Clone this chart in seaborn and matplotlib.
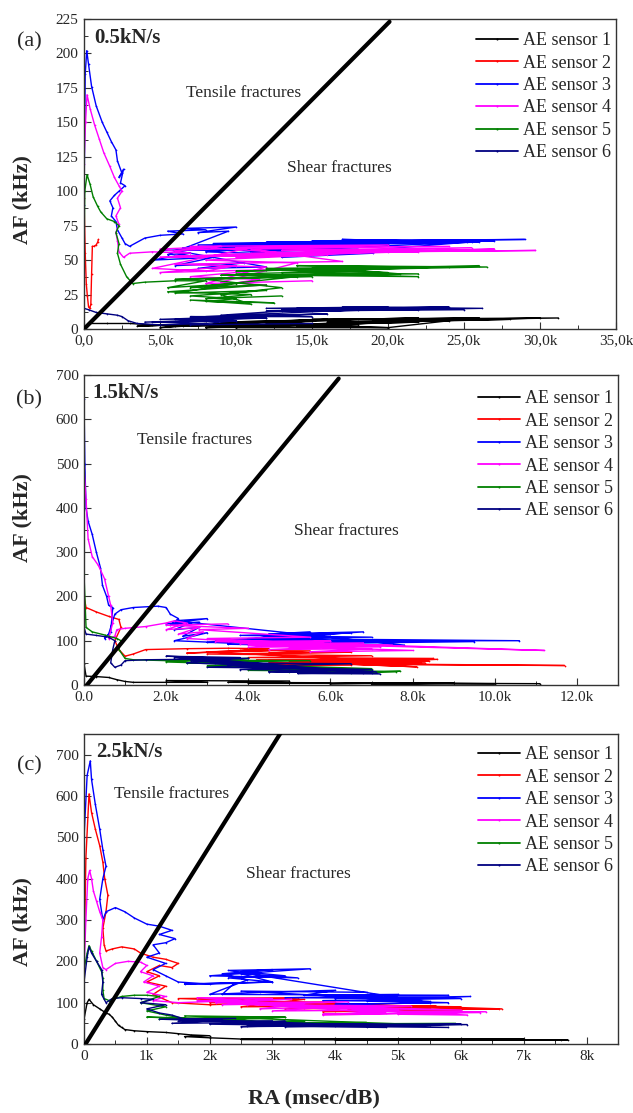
import matplotlib
matplotlib.use('Agg')
import matplotlib.pyplot as plt
import pandas as pd
import seaborn as sns
from matplotlib.lines import Line2D
from matplotlib.ticker import MultipleLocator, FuncFormatter

sns.set_theme(style='white')
plt.rcParams['font.family'] = ['Liberation Serif', 'DejaVu Serif']
plt.rcParams['axes.unicode_minus'] = False

# ---------------- data (RA in thousands of msec/dB, AF in kHz) ----------------
sensor_labels = ['AE sensor 1', 'AE sensor 2', 'AE sensor 3', 'AE sensor 4', 'AE sensor 5', 'AE sensor 6']
sensor_colors = ['#000000', '#FF0000', '#0000FF', '#FF00FF', '#008000', '#000080']
panel_tags = ['(a)', '(b)', '(c)']
panel_rates = ['0.5kN/s', '1.5kN/s', '2.5kN/s']

# panel (a) 0.5 kN/s
a1_ra = [0, 0.3, 1.5, 3.0, 4.5, 6.0, 3.5, 8.0, 5.0, 11.0, 6.5, 14.0, 8.0, 16.0, 10.0, 20.0, 12.0, 18.0, 9.0, 22.0,
         13.0, 26.0, 15.0, 31.2, 19.0, 25.0, 14.0, 20.0, 24.0, 12.0, 28.0, 16.0, 30.0, 10.0, 22.0, 8.0, 18.0, 6.0, 14.0]
a1_af = [0, 4, 4, 4, 3, 3, 2, 4, 1, 5, 2, 6, 3, 7, 1, 1, 4, 7, 5, 8,
         6, 8, 7, 8, 6, 7, 2, 1, 6, 3, 7, 5, 8, 2, 5, 1, 3, 2, 4]
a2_ra = [0, 0, 0.08, 0.15, 0.22, 0.3, 0.38, 0.45, 0.5, 0.55, 0.65, 0.8, 0.9, 0.95]
a2_af = [2, 95, 55, 33, 24, 16, 15, 18, 40, 60, 60, 61, 63, 65]
a3_ra = [0, 0, 0.08, 0.18, 0.3, 0.5, 0.8, 1.2, 1.5, 1.8, 2.1, 2.2, 2.5, 2.3, 2.6, 2.4, 2.7, 2.3, 2.0, 1.7,
         1.9, 1.8, 2.1, 2.2, 2.5, 2.7, 3.0, 4.0, 5.0, 6.5, 5.5, 8.0, 6.5, 10.0, 7.5, 9.5, 5.5, 7.0, 4.5, 8.5,
         6.0, 10.5, 7.5, 12.0, 6.0, 9.0, 14.0, 8.0, 13.0, 7.5, 16.0, 10.0, 20.0, 12.0, 24.0, 14.0, 25.5, 17.0, 22.0, 15.0,
         29.0, 18.0, 27.0, 12.0, 25.0, 8.5, 22.0, 10.0, 26.0, 9.0, 20.0, 6.5, 15.0, 5.0, 18.0, 11.0, 25.2, 13.0, 19.0]
a3_af = [0, 90, 185, 202, 192, 176, 162, 150, 143, 136, 130, 122, 113, 110, 116, 106, 104, 100, 97, 93,
         88, 82, 78, 72, 66, 62, 60, 66, 68, 69, 71, 72, 73, 74, 70, 71, 54, 55, 50, 52,
         46, 48, 44, 45, 57, 58, 54, 56, 60, 61, 62, 60, 63, 62, 64, 63, 63, 65, 64, 64,
         65, 64, 64, 63, 64, 62, 63, 61, 63, 60, 62, 59, 60, 57, 58, 56, 63, 52, 55]
a4_ra = [0, 0, 0.1, 0.2, 0.4, 0.7, 1.0, 1.3, 1.7, 2.0, 2.3, 2.5, 2.2, 2.4, 2.1, 2.3, 2.1, 2.2, 2.3, 2.6,
         3.0, 4.5, 7.0, 5.0, 9.0, 6.0, 11.0, 4.5, 8.0, 10.0, 5.0, 12.0, 7.0, 11.5, 8.0, 12.0, 9.0, 14.0, 8.0, 16.0,
         10.0, 19.0, 11.0, 22.0, 13.0, 25.5, 15.0, 21.0, 18.0, 29.7, 20.0, 27.0, 12.0, 25.0, 9.0, 22.0, 6.0, 18.0, 5.0, 15.0,
         7.0, 20.0, 10.0, 24.0, 11.0, 17.0, 6.0, 12.0, 8.0, 15.0]
a4_af = [40, 120, 150, 170, 160, 148, 138, 128, 118, 110, 104, 100, 95, 88, 82, 76, 70, 64, 56, 52,
         55, 56, 55, 58, 60, 57, 59, 44, 42, 46, 41, 43, 38, 36, 30, 32, 34, 48, 50, 54,
         52, 56, 55, 58, 57, 59, 56, 57, 56, 57, 56, 58, 55, 57, 54, 56, 53, 55, 52, 54,
         60, 61, 59, 60, 58, 49, 47, 45, 33, 35]
a5_ra = [0, 0, 0.05, 0.2, 0.4, 0.6, 0.9, 1.1, 1.5, 2.0, 2.3, 2.1, 2.3, 2.2, 2.4, 2.8, 3.2, 4.0, 6.0, 8.0,
         5.5, 10.0, 6.0, 12.0, 7.0, 10.0, 8.0, 12.5, 7.0, 11.0, 9.0, 13.0, 8.0, 15.0, 10.0, 18.0, 12.0, 22.0, 14.0, 26.5,
         17.0, 20.8, 13.0, 22.0, 16.0, 20.0, 15.0, 24.0, 12.0, 20.0, 10.0, 26.0, 13.0, 22.0, 9.0, 18.0,
         6.0, 14.0, 7.0, 12.0, 5.5, 11.0, 8.0, 13.0]
a5_af = [0, 50, 100, 112, 105, 96, 89, 85, 80, 78, 75, 70, 62, 55, 47, 38, 33, 34, 35, 35,
         30, 33, 26, 28, 24, 22, 20, 19, 21, 18, 25, 30, 36, 38, 40, 42, 44, 45, 46, 45,
         43, 40, 39, 38, 40, 41, 44, 45, 43, 44, 42, 46, 41, 40, 39, 40,
         36, 38, 30, 32, 27, 25, 22, 24]
a6_ra = [0, 0, 0.3, 0.8, 1.5, 2.2, 2.5, 2.9, 3.5, 5.0, 8.0, 4.5, 10.0, 6.0, 12.0, 7.0, 15.0, 9.0, 13.0, 18.0,
         12.0, 20.0, 14.0, 23.0, 15.0, 26.2, 17.0, 22.0, 12.0, 25.0, 14.0, 24.0, 13.0, 20.0, 8.0, 16.0, 5.0, 12.0,
         4.0, 10.0, 7.0, 15.0]
a6_af = [3, 15, 14, 12, 11, 10, 9, 6, 4, 3, 4, 5, 6, 7, 8, 9, 9, 10, 13, 14,
         15, 16, 14, 15, 13, 15, 16, 14, 13, 14, 15, 16, 14, 15, 9, 11, 7, 8,
         5, 6, 3, 4]

# panel (b) 1.5 kN/s
b1_ra = [0, 0, 0.05, 0.3, 0.6, 0.8, 1.0, 1.2, 3.0, 2.0, 5.0, 3.5, 6.0, 4.0, 8.0, 6.0, 9.0, 7.0, 10.0, 8.0, 11.1]
b1_af = [0, 48, 20, 19, 17, 12, 8, 6, 6, 10, 9, 6, 5, 4, 5, 3, 4, 2, 3, 4, 3]
b2_ra = [0, 0, 0.05, 0.3, 0.6, 0.85, 0.9, 0.75, 0.85, 1.0, 1.2, 1.5, 2.5, 3.5, 4.5, 3.8, 5.5, 4.5, 6.5, 3.0,
         7.0, 4.0, 8.5, 4.5, 8.0, 6.0, 8.3, 5.5, 7.5, 11.7, 6.5, 8.6, 5.0, 8.1,
         5.0, 8.4, 4.5, 8.0, 4.2, 7.5, 3.5, 6.5, 4.0, 8.2, 3.0, 4.5, 2.5, 4.3]
b2_af = [0, 200, 175, 165, 155, 148, 130, 100, 80, 65, 70, 80, 82, 83, 82, 78, 77, 72, 74, 70,
         66, 62, 60, 56, 55, 52, 50, 47, 46, 44, 48, 58, 53, 41,
         52, 54, 50, 51, 57, 56, 42, 45, 48, 50, 75, 78, 72, 80]
b3_ra = [0, 0, 0.02, 0.05, 0.1, 0.2, 0.3, 0.4, 0.45, 0.55, 0.6, 0.7, 0.65, 0.5, 0.6, 0.75, 0.9, 1.2, 1.8, 2.0,
         2.1, 2.3, 2.1, 2.6, 2.2, 2.8, 2.4, 3.0, 2.2, 3.5, 4.5, 5.5, 4.5, 6.0, 4.0, 7.5, 5.0, 6.5, 3.5, 7.2,
         4.8, 6.0, 10.6, 4.0, 7.0, 3.8, 6.5, 3.2, 5.8, 4.5, 6.8, 3.0, 9.5, 4.2, 7.8, 2.2, 3.0, 2.0, 2.8]
b3_af = [0, 645, 500, 400, 370, 340, 300, 265, 225, 200, 180, 175, 120, 105, 115, 160, 170, 175, 178, 175,
         160, 150, 135, 140, 125, 130, 110, 118, 100, 95, 110, 120, 115, 110, 102, 98, 95, 90, 92, 88,
         104, 100, 100, 105, 108, 112, 118, 100, 103, 115, 120, 96, 98, 92, 90, 145, 150, 138, 142]
b4_ra = [0, 0, 0.05, 0.1, 0.2, 0.35, 0.5, 0.6, 0.65, 0.7, 0.6, 0.75, 0.8, 1.0, 1.5, 2.0, 2.2, 2.5, 2.0, 2.8,
         2.3, 2.9, 2.5, 3.5, 4.0, 5.0, 4.0, 6.5, 4.5, 7.0, 5.5, 8.0, 4.0, 6.0, 5.5, 11.2,
         3.2, 6.0, 3.8, 6.8, 4.3, 7.5, 5.0, 7.2, 3.0, 5.5, 2.8, 4.0, 2.0, 3.5]
b4_af = [0, 490, 420, 330, 290, 270, 240, 200, 180, 140, 105, 110, 125, 128, 132, 140, 145, 140, 125, 130,
         115, 120, 105, 100, 95, 92, 85, 88, 80, 82, 75, 78, 90, 100, 95, 78,
         98, 100, 93, 95, 88, 90, 84, 86, 105, 108, 125, 128, 135, 138]
b5_ra = [0, 0, 0.05, 0.2, 0.5, 0.8, 0.9, 0.85, 1.0, 1.2, 2.0, 3.0, 4.0, 2.0, 3.5, 4.5, 3.0, 6.0, 4.5, 7.0,
         5.5, 7.7, 6.5, 3.0, 5.5, 2.5, 7.0, 4.0, 7.6, 5.0]
b5_af = [0, 250, 130, 120, 113, 105, 100, 80, 60, 57, 55, 58, 60, 52, 48, 42, 43, 38, 35, 32,
         30, 31, 28, 56, 55, 50, 37, 33, 30, 29]
b6_ra = [0, 0, 0.05, 0.3, 0.6, 0.75, 0.7, 0.65, 0.75, 0.9, 1.0, 1.5, 2.5, 3.5, 2.0, 3.8, 2.5, 4.0, 3.0, 5.0,
         3.8, 6.0, 4.5, 7.0, 5.2, 7.2, 6.0, 3.5, 2.8, 3.2, 6.5, 3.8, 7.0, 4.5, 6.8, 2.2, 4.0, 2.6, 5.5, 3.5, 7.1]
b6_af = [0, 130, 115, 112, 108, 100, 80, 50, 40, 45, 55, 57, 58, 60, 65, 62, 50, 45, 40, 38,
         35, 33, 30, 28, 26, 25, 35, 55, 60, 50, 48, 42, 35, 30, 27, 62, 60, 55, 36, 45, 30]

# panel (c) 2.5 kN/s
c1_ra = [0, 0, 0.05, 0.08, 0.15, 0.25, 0.35, 0.4, 0.45, 0.5, 0.55, 0.6, 0.65, 0.8, 1.0, 1.3, 1.5, 1.7, 2.0, 1.6,
         2.0, 2.5, 3.5, 5.0, 7.0, 4.0, 6.0, 7.5, 5.0, 7.7, 2.5, 6.5, 3.0, 7.0, 4.5, 7.6]
c1_af = [0, 60, 100, 108, 95, 85, 75, 72, 65, 55, 45, 40, 35, 32, 30, 28, 25, 22, 20, 18,
         15, 12, 12, 11, 12, 10, 9, 10, 11, 10, 11, 10, 12, 11, 9, 10]
c2_ra = [0, 0.03, 0.08, 0.12, 0.18, 0.25, 0.3, 0.33, 0.38, 0.35, 0.3, 0.32, 0.35, 0.45, 0.6, 0.8, 0.9, 1.1, 1.3, 1.5,
         1.4, 1.2, 1.0, 1.2, 1.0, 1.3, 1.1, 1.4, 2.0, 3.0, 2.2, 3.5, 2.5, 4.5, 3.2, 5.5, 4.0, 6.0, 3.8, 5.8,
         6.65, 1.5, 3.4, 2.0, 4.0, 2.8, 5.6, 3.5, 6.0, 2.5, 5.2, 4.2, 6.6]
c2_af = [180, 450, 605, 560, 520, 480, 440, 400, 360, 320, 280, 240, 225, 230, 235, 230, 220, 210, 205, 195,
         185, 190, 175, 165, 150, 140, 120, 100, 95, 100, 110, 108, 90, 92, 85, 88, 80, 82, 78, 85,
         85, 110, 112, 100, 102, 95, 92, 88, 90, 98, 85, 82, 85]
c3_ra = [0, 0, 0.05, 0.1, 0.12, 0.18, 0.25, 0.3, 0.35, 0.3, 0.25, 0.3, 0.35, 0.5, 0.65, 0.8, 1.0, 1.2, 1.4, 1.2,
         1.45, 1.3, 1.1, 1.2, 1.0, 1.3, 1.1, 1.3, 1.5, 2.0, 3.0, 2.3, 3.2, 2.5, 3.0, 2.2, 2.6, 2.0, 2.8, 4.0,
         3.5, 5.0, 4.0, 6.15, 4.5, 5.8, 4.0, 5.5, 2.3, 3.6, 2.0, 3.4, 2.5, 3.0, 1.6, 2.4, 2.2, 5.8, 3.2, 6.0,
         3.8, 5.5, 2.5, 4.5]
c3_af = [0, 500, 650, 685, 640, 580, 520, 470, 430, 400, 350, 300, 320, 330, 320, 305, 290, 285, 275, 265,
         255, 245, 240, 220, 210, 195, 180, 165, 150, 145, 150, 160, 165, 175, 180, 170, 155, 120, 125, 130,
         118, 120, 110, 115, 105, 100, 96, 100, 178, 182, 165, 160, 170, 150, 145, 148, 120, 118, 112, 110,
         105, 103, 128, 125]
c4_ra = [0, 0.03, 0.06, 0.09, 0.12, 0.15, 0.2, 0.25, 0.3, 0.28, 0.25, 0.3, 0.35, 0.5, 0.7, 0.9, 1.0, 0.9, 1.1, 0.95,
         1.2, 1.0, 1.3, 1.1, 1.5, 2.5, 1.8, 3.0, 2.2, 3.5, 2.8, 4.0, 3.0, 5.0, 3.8, 5.5, 4.5, 6.4, 5.0, 6.1,
         1.8, 3.3, 2.1, 4.2, 2.6, 5.2, 3.5, 6.0, 2.5, 4.8, 3.8, 6.3]
c4_af = [180, 300, 400, 420, 400, 370, 345, 320, 300, 260, 220, 185, 180, 195, 200, 198, 190, 175, 165, 150,
         140, 125, 115, 105, 100, 105, 112, 110, 95, 98, 85, 90, 80, 82, 70, 75, 80, 78, 72, 70,
         105, 108, 100, 102, 95, 92, 88, 82, 98, 75, 72, 76]
c5_ra = [0, 0, 0.05, 0.08, 0.12, 0.2, 0.28, 0.3, 0.3, 0.32, 0.4, 0.6, 0.8, 1.0, 1.2, 0.9, 1.3, 1.0, 1.3, 1.6,
         1.0, 2.0, 3.2, 1.8, 3.5, 2.3, 4.5, 3.0, 5.9, 4.0, 5.5, 1.6, 3.2, 1.2, 2.5, 3.0, 5.8]
c5_af = [0, 180, 220, 238, 225, 200, 175, 160, 130, 110, 105, 115, 118, 118, 115, 100, 90, 80, 70, 62,
         65, 62, 65, 55, 55, 50, 52, 48, 50, 45, 46, 68, 65, 60, 58, 50, 48]
c6_ra = [0, 0, 0.05, 0.08, 0.12, 0.2, 0.28, 0.3, 0.28, 0.35, 0.45, 0.6, 0.9, 1.1, 0.9, 1.3, 1.0, 1.2, 1.4, 1.6,
         2.2, 1.4, 2.6, 3.2, 2.0, 3.5, 2.5, 4.0, 3.0, 6.1, 4.5, 5.8, 1.2, 2.4, 1.5, 3.0, 2.2, 5.5, 3.2, 6.0,
         2.6, 4.8]
c6_af = [0, 150, 210, 235, 220, 200, 180, 150, 120, 100, 110, 112, 110, 108, 100, 95, 85, 75, 70, 60,
         58, 50, 52, 55, 48, 45, 42, 44, 50, 47, 42, 40, 60, 62, 55, 56, 50, 46, 42, 48,
         44, 40]

# tensile/shear dividing lines
diag_a_ra, diag_a_af = [0, 20.1], [0, 223]
diag_b_ra, diag_b_af = [0, 6.2], [-8, 692]
diag_c_ra, diag_c_af = [0, 3.14], [-6, 755]

# ---------------- build tables ----------------
def make_df(series):
    rows = []
    for lab, (ra, af) in zip(sensor_labels, series):
        n = min(len(ra), len(af))
        for k in range(n):
            rows.append((lab, ra[k], af[k]))
    return pd.DataFrame(rows, columns=['sensor', 'RA', 'AF'])

df_a = make_df([(a1_ra, a1_af), (a2_ra, a2_af), (a3_ra, a3_af), (a4_ra, a4_af), (a5_ra, a5_af), (a6_ra, a6_af)])
df_b = make_df([(b1_ra, b1_af), (b2_ra, b2_af), (b3_ra, b3_af), (b4_ra, b4_af), (b5_ra, b5_af), (b6_ra, b6_af)])
df_c = make_df([(c1_ra, c1_af), (c2_ra, c2_af), (c3_ra, c3_af), (c4_ra, c4_af), (c5_ra, c5_af), (c6_ra, c6_af)])

fmt_a = FuncFormatter(lambda v, p: '0,0' if abs(v) < 1e-9 else ('%.1fk' % v).replace('.', ','))
fmt_b = FuncFormatter(lambda v, p: '0.0' if abs(v) < 1e-9 else '%.1fk' % v)
fmt_c = FuncFormatter(lambda v, p: '0' if abs(v) < 1e-9 else '%dk' % round(v))

panels = [
    dict(df=df_a, diag=(diag_a_ra, diag_a_af), xlim=(0, 35), ylim=(0, 225), xmaj=5, xmin=2.5, ymaj=25, ymin=12.5,
         fmt=fmt_a, tens=(10.5, 171), shear=(16.8, 117), ylab_y=0.416, tag_y=0.926, rate_y=0.939, rate_x=0.019,
         leg_y=0.972, rect=[84 / 633, (1113 - 329) / 1113, 532 / 633, 310 / 1113]),
    dict(df=df_b, diag=(diag_b_ra, diag_b_af), xlim=(0, 13.0), ylim=(0, 700), xmaj=2, xmin=1, ymaj=100, ymin=50,
         fmt=fmt_b, tens=(2.7, 553), shear=(6.38, 348), ylab_y=0.539, tag_y=0.919, rate_y=0.942, rate_x=0.015,
         leg_y=0.965, rect=[84 / 633, (1113 - 685) / 1113, 534 / 633, 310 / 1113]),
    dict(df=df_c, diag=(diag_c_ra, diag_c_af), xlim=(0, 8.5), ylim=(0, 750), xmaj=1, xmin=0.5, ymaj=100, ymin=50,
         fmt=fmt_c, tens=(1.39, 605), shear=(3.41, 411), ylab_y=0.394, tag_y=0.897, rate_y=0.942, rate_x=0.022,
         leg_y=0.975, rect=[84 / 633, (1113 - 1044) / 1113, 534 / 633, 310 / 1113]),
]

fig = plt.figure(figsize=(6.33, 11.13), dpi=100)
palette = dict(zip(sensor_labels, sensor_colors))

for i, P in enumerate(panels):
    ax = fig.add_axes(P['rect'])
    sns.lineplot(data=P['df'], x='RA', y='AF', hue='sensor', hue_order=sensor_labels, palette=palette,
                 sort=False, estimator=None, legend=False, linewidth=1.0, marker='.', markersize=2.5,
                 markeredgewidth=0, ax=ax)
    ax.plot(P['diag'][0], P['diag'][1], color='black', linewidth=3.0, solid_capstyle='round', zorder=5)
    ax.set_xlim(*P['xlim'])
    ax.set_ylim(*P['ylim'])
    ax.xaxis.set_major_locator(MultipleLocator(P['xmaj']))
    ax.xaxis.set_minor_locator(MultipleLocator(P['xmin']))
    ax.yaxis.set_major_locator(MultipleLocator(P['ymaj']))
    ax.yaxis.set_minor_locator(MultipleLocator(P['ymin']))
    ax.xaxis.set_major_formatter(P['fmt'])
    ax.tick_params(which='major', direction='in', length=5, width=0.8, labelsize=11, color='#333333',
                   bottom=True, left=True, top=False, right=False, pad=4)
    ax.tick_params(which='minor', direction='in', length=3, width=0.7, color='#333333',
                   bottom=True, left=True, top=False, right=False)
    for s in ax.spines.values():
        s.set_color('#333333')
        s.set_linewidth(1.0)
    ax.set_xlabel('')
    ax.set_ylabel('AF (kHz)', fontsize=16, fontweight='bold', labelpad=2)
    ax.yaxis.set_label_coords(-0.097, P['ylab_y'])
    ax.text(-0.103, P['tag_y'], panel_tags[i], transform=ax.transAxes, fontsize=16, ha='center', va='center')
    ax.text(P['rate_x'], P['rate_y'], panel_rates[i], transform=ax.transAxes, fontsize=15,
            fontweight='bold', ha='left', va='center')
    ax.text(P['tens'][0], P['tens'][1], 'Tensile fractures', fontsize=12.5, ha='center', va='center')
    ax.text(P['shear'][0], P['shear'][1], 'Shear fractures', fontsize=12.5, ha='center', va='center')
    handles = [Line2D([0], [0], color=c, linewidth=1.3, marker='.', markersize=3, markeredgewidth=0)
               for c in sensor_colors]
    ax.legend(handles, sensor_labels, loc='upper right', bbox_to_anchor=(1.0, P['leg_y']), frameon=False,
              fontsize=13, handlelength=2.3, handletextpad=0.3, labelspacing=0.3, borderaxespad=0.0,
              borderpad=0.25)

fig.text(314 / 633, 1 - 1098 / 1113, 'RA (msec/dB)', fontsize=16, fontweight='bold', ha='center', va='center')

fig.savefig('out.png', dpi=100)
